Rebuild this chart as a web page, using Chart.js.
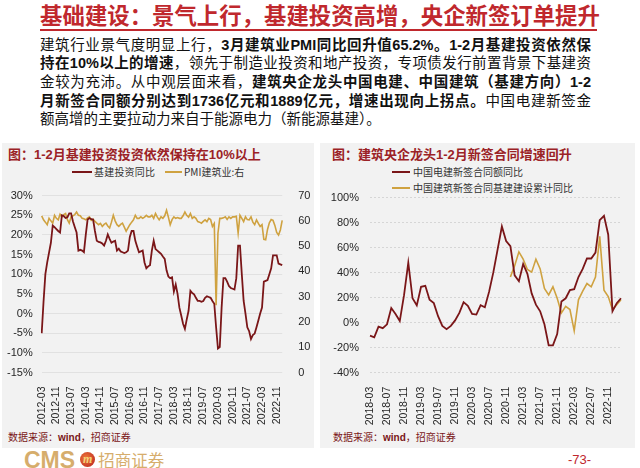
<!DOCTYPE html>
<html><head><meta charset="utf-8">
<script src="https://cdn.jsdelivr.net/npm/chart.js@4"></script>
<style>
body{margin:0;width:640px;height:468px;position:relative;background:#fff;overflow:hidden;font-family:"Liberation Sans","Noto Sans CJK SC",sans-serif;}
.abs{position:absolute;}
#title{left:0;top:0;width:640px;text-align:center;font-size:22.4px;line-height:28px;font-weight:700;color:#c0282d;font-family:"Noto Sans CJK SC",sans-serif;}
#rule{left:40px;top:29px;width:557px;height:2px;background:#c0282d;}
#body{left:40px;top:35.5px;width:551px;font-size:14.5px;color:#111;font-family:"Liberation Sans","Noto Sans CJK SC",sans-serif;}
#body div{height:18.7px;line-height:18.7px;white-space:nowrap;text-align:justify;text-align-last:justify;}
#body div.last{text-align:left;text-align-last:left;}
#body b{font-weight:700;}
.panel{background:#f2f2f2;}
.ptitle{font-size:13px;line-height:16px;color:#9b2226;font-weight:700;font-family:"Liberation Sans","Noto Sans CJK SC",sans-serif;white-space:nowrap;}
.lg{font-size:10px;line-height:12px;color:#333;font-family:"Noto Sans CJK SC",sans-serif;white-space:nowrap;}
.lgl{height:2px;}
.src{font-size:10px;line-height:12px;color:#7a1618;font-family:"Noto Sans CJK SC",sans-serif;white-space:nowrap;}
.src b{font-family:"Liberation Sans",sans-serif;font-weight:700;}
canvas{position:absolute;}
</style></head>
<body>
<div id="title" class="abs">基础建设：景气上行，基建投资高增，央企新签订单提升</div>
<div id="rule" class="abs"></div>
<div id="body" class="abs">
<div>建筑行业景气度明显上行，<b>3月建筑业PMI同比回升值65.2%。1-2月基建投资依然保</b></div>
<div><b>持在10%以上的增速</b>，领先于制造业投资和地产投资，专项债发行前置背景下基建资</div>
<div>金较为充沛。从中观层面来看，<b>建筑央企龙头中国电建、中国建筑（基建方向）1-2</b></div>
<div><b>月新签合同额分别达到1736亿元和1889亿元，增速出现向上拐点。</b>中国电建新签金</div>
<div class="last">额高增的主要拉动力来自于能源电力（新能源基建）。</div>
</div>

<div class="abs panel" style="left:2px;top:143px;width:312px;height:305px;"></div>
<div class="abs panel" style="left:320px;top:143px;width:315px;height:305px;"></div>

<div class="abs ptitle" style="left:8px;top:147px;">图：1-2月基建投资投资依然保持在10%以上</div>
<div class="abs ptitle" style="left:332px;top:147px;">图：建筑央企龙头1-2月新签合同增速回升</div>

<div class="abs lgl" style="left:72px;top:171px;width:20px;background:#7a1618;"></div>
<div class="abs lg" style="left:94px;top:166px;letter-spacing:0.2px;">基建投资同比</div>
<div class="abs lgl" style="left:165px;top:171px;width:17px;background:#cfa240;"></div>
<div class="abs lg" style="left:184px;top:166px;">PMI建筑业:右</div>

<div class="abs lgl" style="left:392px;top:171px;width:18px;background:#7a1618;"></div>
<div class="abs lg" style="left:413px;top:166px;">中国电建新签合同额同比</div>
<div class="abs lgl" style="left:392px;top:187px;width:18px;background:#cfa240;"></div>
<div class="abs lg" style="left:413px;top:182px;">中国建筑新签合同基建建设累计同比</div>

<canvas id="c1" width="314" height="245" style="left:0px;top:180px;width:314px;height:245px;"></canvas>
<canvas id="c2" width="315" height="245" style="left:320px;top:180px;width:315px;height:245px;"></canvas>

<div class="abs src" style="left:8px;top:431px;">数据来源：<b>wind</b>，招商证券</div>
<div class="abs src" style="left:333px;top:431px;">数据来源：<b>wind</b>，招商证券</div>

<div class="abs" style="left:24px;top:450px;height:20px;white-space:nowrap;">
<span style="display:inline-block;font-family:'Liberation Sans',sans-serif;font-weight:700;font-size:23px;line-height:20px;color:#d6ad6c;vertical-align:top;transform:scaleX(1.0);">CMS</span><span style="display:inline-block;width:15px;height:15px;border-radius:8px;background:radial-gradient(circle at 40% 40%,#f07a3a,#b51e1e);color:#f4d27a;font:italic 700 12px/15px 'Liberation Serif',serif;text-align:center;vertical-align:top;margin:2px 3px 0 5px;">m</span><span style="display:inline-block;font-family:'Noto Sans CJK SC',sans-serif;font-size:16.5px;line-height:20px;color:#d6ad6c;vertical-align:top;">招商证券</span>
</div>
<div class="abs" style="left:568px;top:452px;font-size:13px;line-height:15px;color:#c0282d;font-family:'Liberation Sans',sans-serif;">-73-</div>

<script>
// ---- categories ----
function monthLabels(y, m, n) {
  const out = [];
  for (let k = 0; k < n; k++) {
    const mm = m - 1 + k;
    out.push((y + Math.floor(mm / 12)) + '-' + String(mm % 12 + 1).padStart(2, '0'));
  }
  return out;
}
const leftMonths = monthLabels(2012, 3, 132);   // 2012-03 .. 2023-02
const rightMonths = monthLabels(2018, 3, 60);   // 2018-03 .. 2023-02

// ---- left chart series ----
const infraYoY = [
  -5, 3, 10, 13, 15.5, 18, 22.4, 22, 21.5, 21, 20.6, 25,
  24.8, 24.3, 24.5, 25.5, 25.5, 23.5, 22, 20.6, 16, 16.2, 16, 15.6,
  20, 23.9, 24.3, 24, 23.9, 21, 18.5, 18.2, 18.1, 17.8, 17.3, 18.5,
  20.1, 19, 18, 18.3, 18.5, 16, 16.5, 15.8, 15.6, 15.4, 15.6, 16,
  19.5, 21, 21, 18.5, 17, 15.6, 15.8, 16, 13, 11.5, 12, 12.3,
  16, 18.5, 16.4, 16, 15.6, 15.2, 14.5, 13.9, 11, 9.4, 9.0, 9.2,
  5.6, 7.4, 5, 1.5, -0.5, -2.6, -3.9, -1.5, 0.7, 5.8, 5.2, 4.9,
  4, 3.2, 3.2, 3.0, 3.2, 4, 4.4, 4.2, 4.0, 3.2, 2.5, -3.5,
  -8.9, -8.5, 1.5, 9, 9, 8.1, 7, 6.5, 6.3, 6.1, 9, 17.3,
  17.3, 10, 3.2, 0, -3.5, -4.5, -6.5, -5.5, -5.1, -3.5, -1.8, 0,
  1.5, 8.1, 8.3, 8.5, 10, 11.5, 14.8, 14.8, 14.8, 12.7, 12.5, 12.3
];
const constructionPMI = [
  62.0, 60.4, 59.5, 58.5, 61.0, 60.0, 59.1, 62.2, 61.0, 60.4, 62.6, 61.6,
  62.5, 62.9, 60.5, 59.1, 61.6, 62.0, 62.5, 63.5, 62.2, 62.0, 61.0, 60.8,
  60.4, 61.2, 61.6, 60.2, 60.6, 59.8, 59.1, 58.5, 59.0, 57.8, 58.6, 59.1,
  58.0, 57.2, 59.5, 62.2, 60.0, 58.5, 57.8, 58.6, 59.1, 57.5, 55.9, 57.2,
  58.5, 59.5, 60.4, 62.2, 61.0, 61.0, 61.6, 61.0, 61.5, 62.2, 61.6, 61.6,
  62.2, 61.0, 62.9, 61.5, 60.4, 61.6, 61.0, 62.0, 64.2, 61.5, 58.5, 60.5,
  61.6, 61.0, 61.3, 61.0, 61.0, 62.0, 63.5, 62.2, 61.5, 62.9, 61.0, 61.6,
  61.0, 59.7, 59.5, 59.1, 59.8, 60.4, 59.7, 61.0, 60.5, 57.8, 59.0, 26.6,
  55.1, 61.0, 61.0, 61.2, 61.6, 60.6, 61.6, 61.0, 61.6, 61.6, 61.8, 55.2,
  62.2, 61.0, 59.7, 61.6, 60.5, 60.4, 61.6, 59.5, 58.5, 60.4, 59.0, 57.8,
  58.5, 52.7, 52.5, 56.6, 59.2, 60.5, 60.2, 58.2, 55.4, 54.4, 56.4, 60.2
];

// ---- right chart series ----
const powerChinaYoY = [
  -10.4, -11.7, -3.1, -4.4, -1.3, 11.7, 7, 1.3, 22, 48, 19.5, 13.8,
  28.7, 29.5, 18.3, 15.6, 5.2, -2.6, -5.2, -2.6, 1.8, 7.8, 16.4, 13.5,
  7, 6.5, 14, 12.3, 24.8, 40.4, 58.6, 76.9, 65.2, 61.2, 37.8, 33.1,
  46.9, 39.1, 23.4, 14.4, 9.1, -1.3, -18.2, -18.2, -9.1, 17, 19.5, 26,
  26.8, 36.5, 43, 51.3, 51.3, 56, 82, 85.4, 70.3, 9.1, 15.6, 19.5
];
const cscecInfraYoY = [
  null, null, null, null, null, null, null, null, null, null, null, null,
  null, null, null, null, null, null, null, null, null, null, null, null,
  null, null, null, null, null, null, null, null, null, 36.5, 45.6, 56.6,
  50.8, 42.5, 40.4, 50.8, 43, 27.3, 22.2, 28.7, 19.5, 7.8, 13, 10.5,
  -6.5, 18.3, 25.3, 31.3, 28.7, 36.5, 69, 26, 20.9, 10.5, 14.4, 18.3
];

// ---- tick settings ----
const leftTickEvery = 8;
const rightTickEvery = 4;

const RED = '#7a1618', GOLD = '#cfa240';
Chart.defaults.font.family = "'Liberation Sans', Arial, sans-serif";
Chart.defaults.font.size = 11;
Chart.defaults.color = '#262626';

const tickFont = { size: 10.5 };

new Chart(document.getElementById('c1'), {
  type: 'line',
  data: {
    labels: leftMonths,
    datasets: [
      { label: '基建投资同比', data: infraYoY, borderColor: RED, borderWidth: 1.8, pointRadius: 0, tension: 0, yAxisID: 'y' },
      { label: 'PMI建筑业:右', data: constructionPMI, borderColor: GOLD, borderWidth: 1.6, pointRadius: 0, tension: 0, yAxisID: 'y1' }
    ]
  },
  options: {
    responsive: false, animation: false,
    layout: { padding: { top: 11.5, left: 0, right: 0, bottom: 0 } },
    plugins: { legend: { display: false }, tooltip: { enabled: false } },
    scales: {
      x: {
        offset: false,
        grid: { display: false }, border: { display: false },
        ticks: { autoSkip: false, minRotation: 90, maxRotation: 90, padding: 6, font: tickFont,
          callback: function (v, i) { return i % leftTickEvery === 0 ? leftMonths[i] : null; } },
        afterFit: function (s) { s.height = 245 - 192.5; }
      },
      y: {
        position: 'left', min: -15, max: 30,
        ticks: { stepSize: 5, padding: 9, font: { size: 11 }, callback: v => v + '%' },
        grid: { color: '#dcdcdc', lineWidth: 0.8, drawTicks: false }, border: { display: false },
        afterFit: function (s) { s.width = 41.7; }
      },
      y1: {
        position: 'right', min: 0, max: 70,
        ticks: { stepSize: 10, padding: 8, font: { size: 11 } },
        grid: { display: false }, border: { display: false },
        afterFit: function (s) { s.width = 314 - 282.2; }
      }
    }
  }
});

new Chart(document.getElementById('c2'), {
  type: 'line',
  data: {
    labels: rightMonths,
    datasets: [
      { label: '中国电建新签合同额同比', data: powerChinaYoY, borderColor: RED, borderWidth: 1.8, pointRadius: 0, tension: 0 },
      { label: '中国建筑新签合同基建建设累计同比', data: cscecInfraYoY, borderColor: GOLD, borderWidth: 1.6, pointRadius: 0, tension: 0 }
    ]
  },
  options: {
    responsive: false, animation: false,
    layout: { padding: { top: 13.3, left: 0, right: 14, bottom: 0 } },
    plugins: { legend: { display: false }, tooltip: { enabled: false } },
    scales: {
      x: {
        offset: false,
        grid: { display: false }, border: { display: false },
        ticks: { autoSkip: false, minRotation: 90, maxRotation: 90, padding: 6, font: tickFont,
          callback: function (v, i) { return i % rightTickEvery === 0 ? rightMonths[i] : null; } },
        afterFit: function (s) { s.height = 245 - 192.7; }
      },
      y: {
        min: -40, max: 100,
        ticks: { stepSize: 20, padding: 11, font: { size: 11 }, callback: v => v + '%' },
        grid: { color: '#cfcfcf', lineWidth: 0.8, drawTicks: false }, border: { display: false, dash: [2, 2] },
        afterFit: function (s) { s.width = 50; }
      }
    }
  }
});
</script>
</body></html>
